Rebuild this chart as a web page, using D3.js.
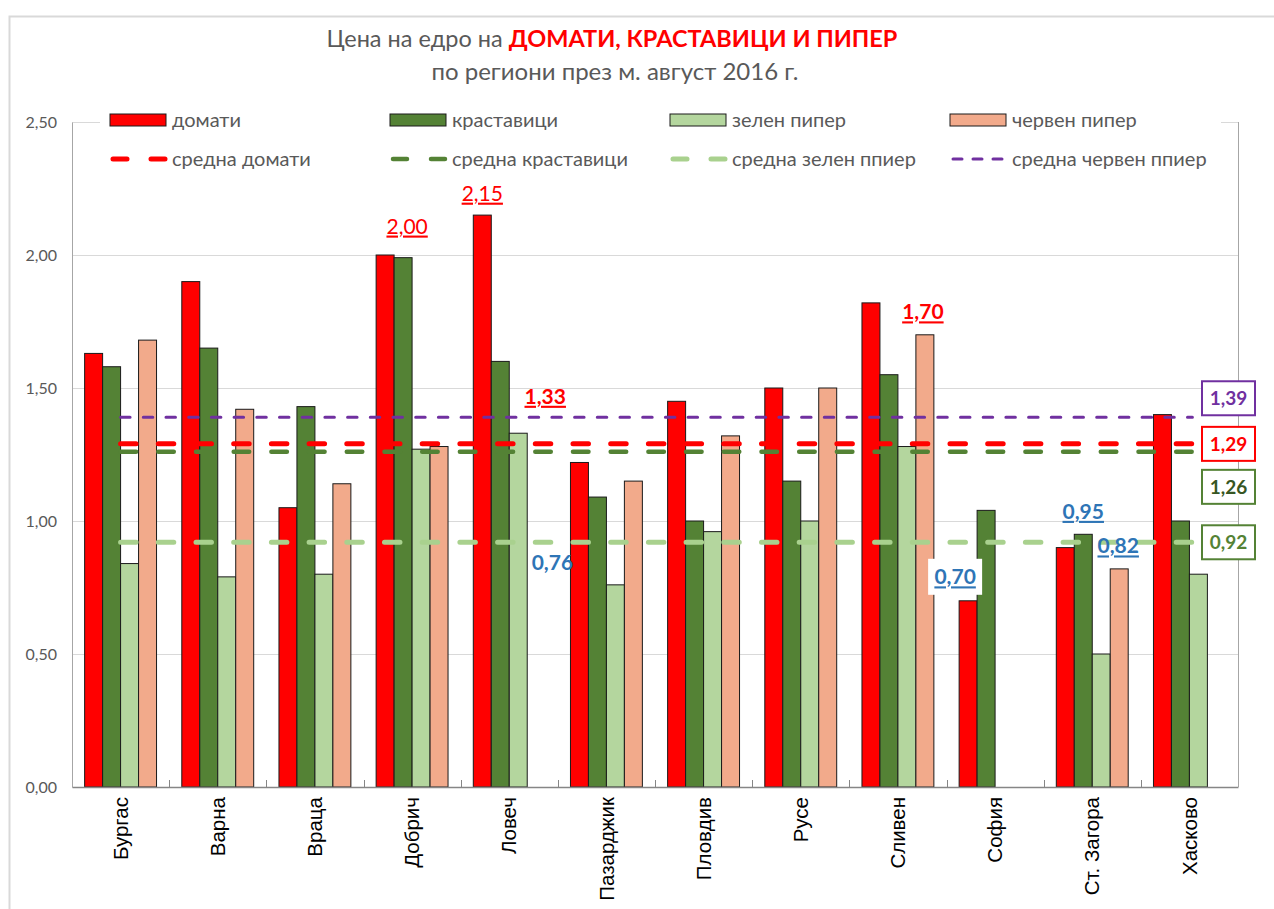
<!DOCTYPE html>
<html><head><meta charset="utf-8">
<script src="https://cdn.jsdelivr.net/npm/d3@7"></script>
<style>body{margin:0;background:#fff}svg{display:block}</style>
</head><body>
<svg id="c" width="1274" height="909"></svg>
<script>
// ---- data ----
const regions = ["Бургас","Варна","Враца","Добрич","Ловеч","Пазарджик","Пловдив","Русе","Сливен","София","Ст. Загора","Хасково"];
const seriesNames = ["домати","краставици","зелен пипер","червен пипер"];
const tomatoes   = [1.63,1.90,1.05,2.00,2.15,1.22,1.45,1.50,1.82,0.70,0.90,1.40];
const cucumbers  = [1.58,1.65,1.43,1.99,1.60,1.09,1.00,1.15,1.55,1.04,0.95,1.00];
const greenPep   = [0.84,0.79,0.80,1.27,1.33,0.76,0.96,1.00,1.28,null,0.50,0.80];
const redPep     = [1.68,1.42,1.14,1.28,null,1.15,1.32,1.50,1.70,null,0.82,null];
const avgNames   = ["средна домати","средна краставици","средна зелен ппиер","средна червен ппиер"];
const avgValues  = [1.29,1.26,0.92,1.39];
const yTicks     = [0,0.5,1,1.5,2,2.5];
const yTickLabels= ["0,00","0,50","1,00","1,50","2,00","2,50"];
// annotations: [region, series index, value, label]
const notes = [["Добрич",0,2.00,"2,00"],["Ловеч",0,2.15,"2,15"],["Ловеч",2,1.33,"1,33"],["Сливен",3,1.70,"1,70"],
               ["Пазарджик",2,0.76,"0,76"],["София",0,0.70,"0,70"],["Ст. Загора",1,0.95,"0,95"],["Ст. Загора",3,0.82,"0,82"]];
const avgLabels = ["1,29","1,26","0,92","1,39"];

// ---- layout ----
const svg = d3.select("#c");
const L=72, R=1238, T=122, B=787;
const barColors = ["#FF0000","#548235","#B4D69E","#F2AA8B"];
const seriesData = [tomatoes,cucumbers,greenPep,redPep];
const x = d3.scaleBand().domain(regions).range([L,R]).paddingInner(0.26).paddingOuter(0.13);
const xs = d3.scaleBand().domain(d3.range(4)).range([0,x.bandwidth()]);
const y = d3.scaleLinear().domain([0,2.5]).range([B,T]);
const FONT = "Lato, 'Open Sans', sans-serif";

// outer border
svg.append("path").attr("d","M9.5,909 V16.5 H1274").attr("fill","none").attr("stroke","#d9d9d9").attr("stroke-width",2);

// title
const title = svg.append("text").attr("x",612).attr("y",47).attr("text-anchor","middle")
  .attr("font-family",FONT).attr("font-size",23.5).attr("fill","#595959");
title.append("tspan").text("Цена на едро на ");
title.append("tspan").attr("fill","#FF0000").attr("font-weight","bold").text("ДОМАТИ, КРАСТАВИЦИ И ПИПЕР");
svg.append("text").attr("x",615).attr("y",80).attr("text-anchor","middle")
  .attr("font-family",FONT).attr("font-size",24).attr("fill","#595959").text("по региони през м. август 2016 г.");

// gridlines
svg.append("g").selectAll("line").data(yTicks.filter(d=>d>0)).join("line")
  .attr("x1",L).attr("x2",R).attr("y1",d=>Math.round(y(d))+0.5).attr("y2",d=>Math.round(y(d))+0.5)
  .attr("stroke","#d9d9d9").attr("stroke-width",1);

// y axis
const yAxis = svg.append("g").attr("transform",`translate(${L},0)`)
  .call(d3.axisLeft(y).tickValues(yTicks).tickFormat((d,i)=>yTickLabels[i]).tickSize(0).tickPadding(15));
yAxis.select(".domain").attr("stroke","#a6a6a6");
yAxis.selectAll("text").attr("font-family",FONT).attr("font-size",16).attr("fill","#595959");
// right border line
svg.append("line").attr("x1",R+0.5).attr("x2",R+0.5).attr("y1",T).attr("y2",B).attr("stroke","#a6a6a6");

// bars
const groups = svg.append("g").selectAll("g").data(regions).join("g")
  .attr("transform",d=>`translate(${x(d)},0)`);
groups.selectAll("rect").data((d,i)=>seriesData.map((s,j)=>({j,v:s[i]})).filter(o=>o.v!=null)).join("rect")
  .attr("x",o=>xs(o.j)).attr("width",xs.bandwidth())
  .attr("y",o=>y(o.v)).attr("height",o=>B-y(o.v))
  .attr("fill",o=>barColors[o.j]).attr("stroke","#1a1a1a").attr("stroke-width",1);

// x axis
const xAxis = svg.append("g").attr("transform",`translate(0,${B})`)
  .call(d3.axisBottom(x).tickSize(0).tickPadding(10));
xAxis.select(".domain").attr("stroke","#868686").attr("stroke-width",1.5);
xAxis.selectAll(".tick text").attr("font-family","'Liberation Sans', Arial, sans-serif").attr("font-size",20.5).attr("fill","#000")
  .attr("text-anchor","end").attr("transform","rotate(-90)").attr("x",-10).attr("y",0).attr("dy","0.35em").attr("dx",0);
// boundary ticks (inside)
const step = x.step();
svg.append("g").selectAll("line").data(d3.range(1,regions.length)).join("line")
  .attr("x1",k=>Math.round(L+k*step)+0.5).attr("x2",k=>Math.round(L+k*step)+0.5)
  .attr("y1",B-7).attr("y2",B).attr("stroke","#868686");

// average lines
const avgStyles = [
  {c:"#FF0000",w:5,d:"15.5,22.2"},
  {c:"#548235",w:4.5,d:"15.5,22.2"},
  {c:"#A9D18E",w:5,d:"15.5,22.2"},
  {c:"#7030A0",w:3,d:"9.5,13.2"}];
const x0 = x(regions[0])+x.bandwidth()/2, x1 = x(regions[regions.length-1])+x.bandwidth()/2;
const drawOrder=[2,1,0,3];
drawOrder.forEach(i=>{
  svg.append("line").attr("x1",x0).attr("x2",x1+3).attr("y1",y(avgValues[i])).attr("y2",y(avgValues[i]))
    .attr("stroke",avgStyles[i].c).attr("stroke-width",avgStyles[i].w).attr("stroke-dasharray",avgStyles[i].d)
    .attr("stroke-linecap","round");
});

// average labels boxes at right
const boxStyle = [
  {border:"#FF0000",text:"#FF0000",dy:0},
  {border:"#548235",text:"#375623",dy:35},
  {border:"#548235",text:"#548235",dy:0},
  {border:"#7030A0",text:"#7030A0",dy:-19}];
avgValues.forEach((v,i)=>{
  const cy = y(v)+boxStyle[i].dy;
  svg.append("rect").attr("x",1202).attr("y",cy-17).attr("width",53).attr("height",34)
    .attr("fill","#fff").attr("stroke",boxStyle[i].border).attr("stroke-width",2);
  svg.append("text").attr("x",1228.5).attr("y",cy).attr("dy","0.36em").attr("text-anchor","middle")
    .attr("font-family",FONT).attr("font-weight","bold").attr("font-size",19).attr("fill",boxStyle[i].text).text(avgLabels[i]);
});

// annotations
const noteStyle = [
  {dx:22,dy:-29,c:"#FF0000",b:false,u:true},
  {dx:0,dy:-22,c:"#FF0000",b:false,u:true},
  {dx:27,dy:-37,c:"#FF0000",b:true,u:true},
  {dx:-2,dy:-23,c:"#FF0000",b:true,u:true},
  {dx:-63,dy:-22,c:"#2E75B6",b:true,u:false},
  {dx:-13,dy:-24,c:"#2E75B6",b:true,u:true,bg:true},
  {dx:0,dy:-23,c:"#2E75B6",b:true,u:true},
  {dx:-1,dy:-23,c:"#2E75B6",b:true,u:true}];
notes.forEach((n,i)=>{
  const s = noteStyle[i];
  const cx = x(n[0])+xs(n[1])+xs.bandwidth()/2+s.dx;
  const cy = y(n[2])+s.dy;
  if(s.bg) svg.append("rect").attr("x",cx-27).attr("y",cy-18).attr("width",54).attr("height",36).attr("fill","#fff");
  svg.append("text").attr("x",cx).attr("y",cy).attr("dy","0.36em").attr("text-anchor","middle")
    .attr("font-family",FONT).attr("font-size",21).attr("font-weight",s.b?"bold":"normal")
    .attr("fill",s.c).attr("text-decoration",s.u?"underline":"none").text(n[3]);
});

// legend
svg.append("rect").attr("x",100).attr("y",108).attr("width",1121).attr("height",66).attr("fill","#fff");
const legX = [110,390,670,950];
const row1 = 120, row2 = 159;
seriesNames.forEach((nm,i)=>{
  svg.append("rect").attr("x",legX[i]).attr("y",row1-6).attr("width",56).attr("height",12)
    .attr("fill",barColors[i]).attr("stroke","#1a1a1a");
  svg.append("text").attr("x",legX[i]+62).attr("y",row1).attr("dy","0.35em")
    .attr("font-family",FONT).attr("font-size",20).attr("fill","#595959").text(nm);
});
avgNames.forEach((nm,i)=>{
  const st = avgStyles[i];
  svg.append("line").attr("x1",legX[i]+3).attr("x2",legX[i]+55).attr("y1",row2).attr("y2",row2)
    .attr("stroke",st.c).attr("stroke-width",st.w).attr("stroke-linecap","round")
    .attr("stroke-dasharray", i===3 ? "9,11" : "14,24");
  svg.append("text").attr("x",legX[i]+62).attr("y",row2).attr("dy","0.35em")
    .attr("font-family",FONT).attr("font-size",20).attr("fill","#595959").text(nm);
});
</script>
</body></html>
